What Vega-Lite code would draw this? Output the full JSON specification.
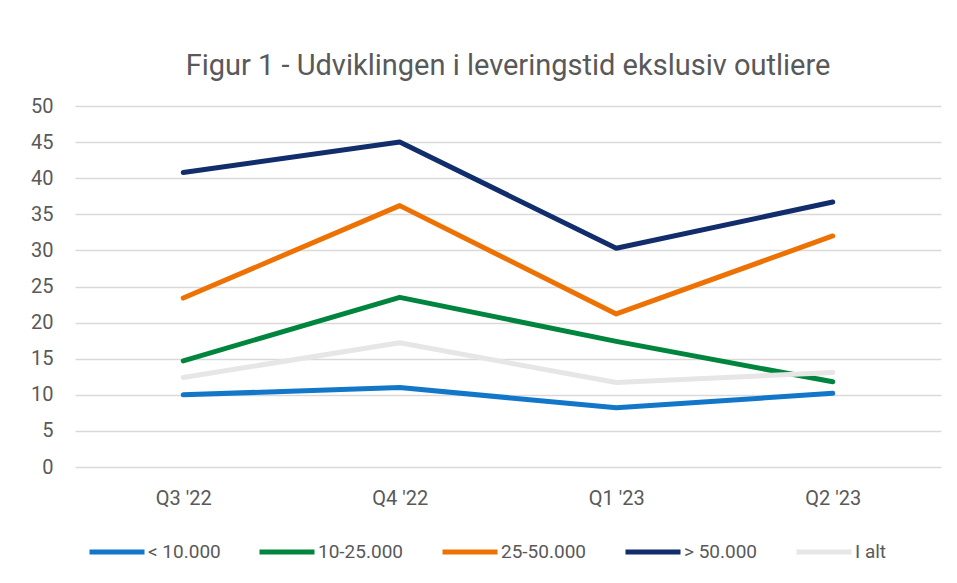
{
  "$schema": "https://vega.github.io/schema/vega-lite/v6.json",
  "width": 866,
  "height": 361,
  "padding": {"left": 30, "top": 52, "right": 18, "bottom": 5},
  "background": "white",
  "title": {
    "text": "Figur 1 - Udviklingen i leveringstid ekslusiv outliere",
    "fontSize": 29,
    "font": "Roboto, sans-serif",
    "fontWeight": "normal",
    "color": "#595959",
    "anchor": "middle",
    "offset": 15
  },
  "data": {
    "values": [
      {"kvartal": "Q3 '22", "gruppe": "< 10.000", "dage": 10.0},
      {"kvartal": "Q4 '22", "gruppe": "< 10.000", "dage": 11.0},
      {"kvartal": "Q1 '23", "gruppe": "< 10.000", "dage": 8.2},
      {"kvartal": "Q2 '23", "gruppe": "< 10.000", "dage": 10.2},
      {"kvartal": "Q3 '22", "gruppe": "10-25.000", "dage": 14.7},
      {"kvartal": "Q4 '22", "gruppe": "10-25.000", "dage": 23.5},
      {"kvartal": "Q1 '23", "gruppe": "10-25.000", "dage": 17.4},
      {"kvartal": "Q2 '23", "gruppe": "10-25.000", "dage": 11.8},
      {"kvartal": "Q3 '22", "gruppe": "25-50.000", "dage": 23.4},
      {"kvartal": "Q4 '22", "gruppe": "25-50.000", "dage": 36.2},
      {"kvartal": "Q1 '23", "gruppe": "25-50.000", "dage": 21.2},
      {"kvartal": "Q2 '23", "gruppe": "25-50.000", "dage": 32.0},
      {"kvartal": "Q3 '22", "gruppe": "> 50.000", "dage": 40.8},
      {"kvartal": "Q4 '22", "gruppe": "> 50.000", "dage": 45.0},
      {"kvartal": "Q1 '23", "gruppe": "> 50.000", "dage": 30.3},
      {"kvartal": "Q2 '23", "gruppe": "> 50.000", "dage": 36.7},
      {"kvartal": "Q3 '22", "gruppe": "I alt", "dage": 12.4},
      {"kvartal": "Q4 '22", "gruppe": "I alt", "dage": 17.2},
      {"kvartal": "Q1 '23", "gruppe": "I alt", "dage": 11.7},
      {"kvartal": "Q2 '23", "gruppe": "I alt", "dage": 13.1}
    ]
  },
  "mark": {"type": "line", "strokeWidth": 5, "strokeCap": "round", "strokeJoin": "round"},
  "encoding": {
    "x": {
      "field": "kvartal",
      "type": "ordinal",
      "sort": ["Q3 '22", "Q4 '22", "Q1 '23", "Q2 '23"],
      "scale": {"padding": 0.5},
      "axis": {"title": null, "labelAngle": 0, "ticks": false, "domain": false, "grid": false, "labelPadding": 21}
    },
    "y": {
      "field": "dage",
      "type": "quantitative",
      "scale": {"domain": [0, 50], "nice": false},
      "axis": {"title": null, "values": [0, 5, 10, 15, 20, 25, 30, 35, 40, 45, 50], "ticks": false, "domain": false, "labelPadding": 22, "gridColor": "#D9D9D9", "gridWidth": 1.3}
    },
    "color": {
      "field": "gruppe",
      "type": "nominal",
      "sort": ["< 10.000", "10-25.000", "25-50.000", "> 50.000", "I alt"],
      "scale": {
        "domain": ["< 10.000", "10-25.000", "25-50.000", "> 50.000", "I alt"],
        "range": ["#1277C9", "#00853E", "#EE7203", "#112D6B", "#E6E6E6"]
      },
      "legend": {
        "orient": "bottom",
        "direction": "horizontal",
        "title": null,
        "symbolType": "stroke",
        "symbolStrokeWidth": 5,
        "symbolSize": 3025,
        "labelOffset": 1,
        "columnPadding": 28,
        "padding": 12,
        "offset": 2
      }
    }
  },
  "config": {
    "font": "Roboto, sans-serif",
    "view": {"stroke": null},
    "axis": {"labelFontSize": 20, "labelColor": "#595959", "labelFont": "Roboto, sans-serif"},
    "legend": {"labelFontSize": 19, "labelColor": "#595959", "labelFont": "Roboto, sans-serif"}
  }
}
